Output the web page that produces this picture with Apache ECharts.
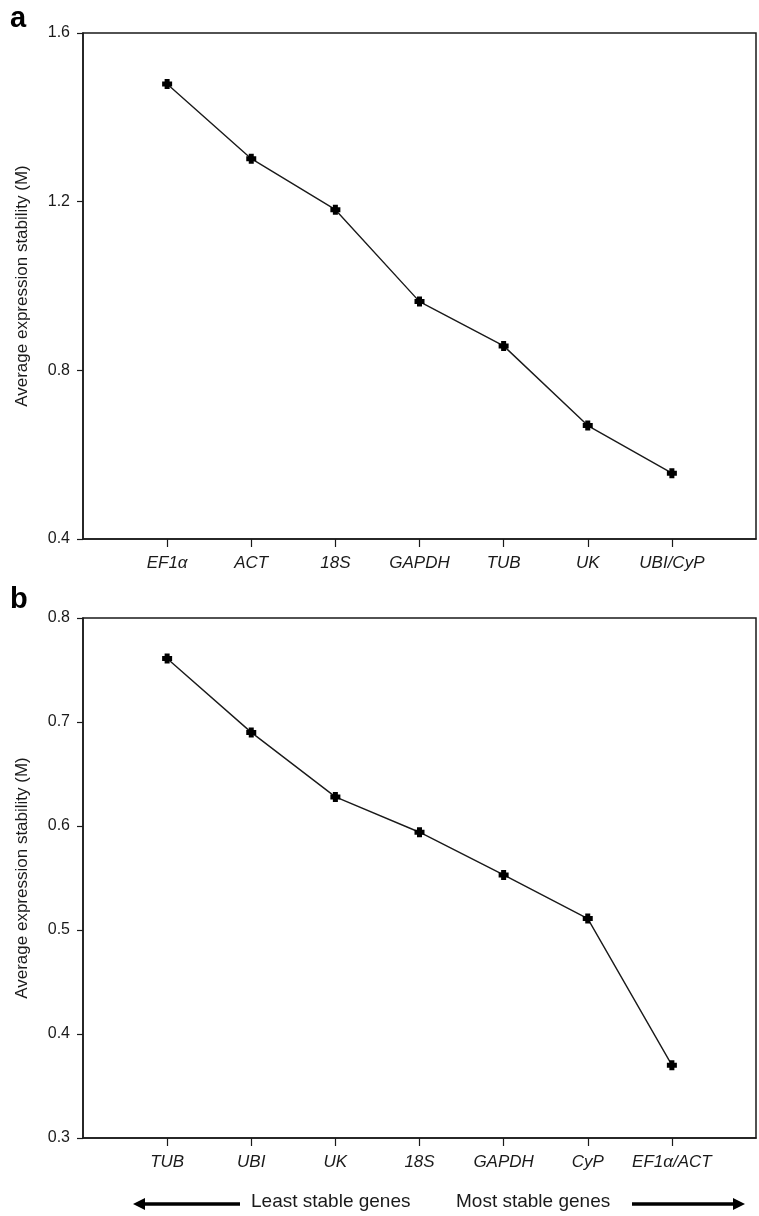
<!DOCTYPE html>
<html>
<head>
<meta charset="utf-8">
<title>Average expression stability</title>
<script src="https://cdn.jsdelivr.net/npm/echarts@6/dist/echarts.min.js"></script>
<style>
    html, body { margin: 0; padding: 0; background: #fff; }
    #chart { width: 759px; height: 1216px; }
</style>
</head>
<body>
<div id="chart"></div>
<script>
    // panel a
    var genesA = ['EF1α', 'ACT', '18S', 'GAPDH', 'TUB', 'UK', 'UBI/CyP'];
    var valuesA = [1.479, 1.302, 1.181, 0.963, 0.858, 0.669, 0.556];
    var ticksA = [0.4, 0.8, 1.2, 1.6];
    // panel b
    var genesB = ['TUB', 'UBI', 'UK', '18S', 'GAPDH', 'CyP', 'EF1α/ACT'];
    var valuesB = [0.761, 0.690, 0.628, 0.594, 0.553, 0.511, 0.370];
    var ticksB = [0.3, 0.4, 0.5, 0.6, 0.7, 0.8];

    var positions = [1, 2, 3, 4, 5, 6, 7];
    var font = '"Liberation Sans", Arial, sans-serif';
    var ink = '#1a1a1a';
    var marker = 'path://M2.5,0H7.5V2.5H10V7.5H7.5V10H2.5V7.5H0V2.5H2.5Z';

    function toPoints(values) {
        return values.map(function(v, i) { return [positions[i], v]; });
    }

    function xAxisFor(gridIndex, names) {
        return {
            type: 'value',
            gridIndex: gridIndex,
            min: 0,
            max: 8,
            interval: 1,
            axisLine: { show: true, lineStyle: { color: ink, width: 1.5 } },
            axisTick: { show: true, length: 8, customValues: positions, lineStyle: { color: ink, width: 1.2 } },
            axisLabel: {
                customValues: positions,
                margin: 16,
                fontFamily: font,
                fontStyle: 'italic',
                fontSize: 17,
                color: ink,
                formatter: function(v) { return names[v - 1] || ''; }
            },
            splitLine: { show: false }
        };
    }

    function yAxisFor(gridIndex, ticks) {
        return {
            type: 'value',
            gridIndex: gridIndex,
            min: ticks[0],
            max: ticks[ticks.length - 1],
            interval: +(ticks[1] - ticks[0]).toFixed(2),
            name: 'Average expression stability (M)',
            nameLocation: 'middle',
            nameGap: 52,
            nameTextStyle: { fontFamily: font, fontSize: 17, color: ink },
            axisLine: { show: true, lineStyle: { color: ink, width: 1.5 } },
            axisTick: { show: true, length: 6, lineStyle: { color: ink, width: 1.2 } },
            axisLabel: {
                margin: 13,
                fontFamily: font,
                fontSize: 16,
                color: ink,
                formatter: function(v) { return v.toFixed(1); }
            },
            splitLine: { show: false }
        };
    }

    function lineSeries(index, values) {
        return {
            type: 'line',
            xAxisIndex: index,
            yAxisIndex: index,
            data: toPoints(values),
            symbol: marker,
            symbolSize: 10,
            showAllSymbol: true,
            lineStyle: { color: ink, width: 1.4 },
            itemStyle: { color: '#000' },
            silent: true,
            animation: false
        };
    }

    function arrow(x1, x2, y, headAtLeft) {
        var tip = headAtLeft ? x1 : x2;
        var dir = headAtLeft ? 1 : -1;
        return [
            {
                type: 'line',
                shape: { x1: headAtLeft ? x1 + 8 : x1, y1: y, x2: headAtLeft ? x2 : x2 - 8, y2: y },
                style: { stroke: '#000', lineWidth: 3.5 }
            },
            {
                type: 'polygon',
                shape: { points: [[tip, y], [tip + dir * 12, y - 6], [tip + dir * 12, y + 6]] },
                style: { fill: '#000' }
            }
        ];
    }

    var chart = echarts.init(document.getElementById('chart'), null, { renderer: 'canvas' });

    var graphics = [
        { type: 'text', left: 10, top: 4, style: { text: 'a', font: 'bold 29px ' + font, fill: '#000' } },
        { type: 'text', left: 10, top: 585, style: { text: 'b', font: 'bold 29px ' + font, fill: '#000' } },
        { type: 'text', left: 251, top: 1192, style: { text: 'Least stable genes', font: '19px ' + font, fill: ink } },
        { type: 'text', left: 456, top: 1192, style: { text: 'Most stable genes', font: '19px ' + font, fill: ink } }
    ].concat(arrow(133, 240, 1204, true)).concat(arrow(632, 745, 1204, false));

    var option = {
        backgroundColor: '#fff',
        animation: false,
        grid: [
            { left: 83, top: 33, width: 673, height: 506, show: true, borderColor: ink, borderWidth: 1.5 },
            { left: 83, top: 618, width: 673, height: 520, show: true, borderColor: ink, borderWidth: 1.5 }
        ],
        xAxis: [xAxisFor(0, genesA), xAxisFor(1, genesB)],
        yAxis: [yAxisFor(0, ticksA), yAxisFor(1, ticksB)],
        series: [lineSeries(0, valuesA), lineSeries(1, valuesB)],
        graphic: graphics
    };

    chart.setOption(option);
</script>
</body>
</html>
